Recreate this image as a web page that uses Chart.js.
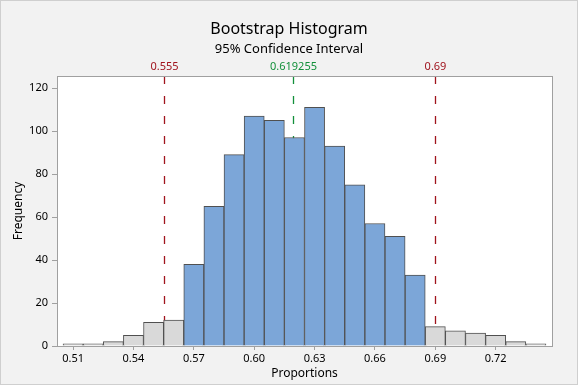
<!DOCTYPE html>
<html>
<head>
<meta charset="utf-8">
<script src="https://cdn.jsdelivr.net/npm/chart.js@4.4.1/dist/chart.umd.min.js"></script>
<style>
  html, body { margin: 0; padding: 0; background: #ffffff; }
  canvas { display: block; }
</style>
</head>
<body>
<canvas id="bootChart" width="578" height="389"></canvas>
<script>
// bin centres (bin width 0.01) and counts
const binCenters = [0.51, 0.52, 0.53, 0.54, 0.55, 0.56, 0.57, 0.58, 0.59, 0.60, 0.61, 0.62,
                    0.63, 0.64, 0.65, 0.66, 0.67, 0.68, 0.69, 0.70, 0.71, 0.72, 0.73, 0.74];
const frequencies = [1, 1, 2, 5, 11, 12, 38, 65, 89, 107, 105, 97,
                     111, 93, 75, 57, 51, 33, 9, 7, 6, 5, 2, 1];
const binWidth = 0.01;
const ciLower = 0.555;
const ciMean = 0.619255;
const ciUpper = 0.69;
const refValues = [ciLower, ciMean, ciUpper];
const refLabels = ["0.555", "0.619255", "0.69"];
const xTicks = [0.51, 0.54, 0.57, 0.60, 0.63, 0.66, 0.69, 0.72];
const yTicks = [0, 20, 40, 60, 80, 100, 120];

const FONT = "'Noto Sans', sans-serif";
const RED = "#a0141e";
const GREEN = "#12903a";

function barColor(c) {
    const x = binCenters[c.dataIndex];
    const inside = (x - binWidth / 2) > ciLower + 1e-9 && (x + binWidth / 2) < ciUpper - 1e-9;
    return inside ? "#7ca6d8" : "#d9d9d9";
}

const framePlugin = {
    id: "frame",
    beforeDraw(chart) {
        const c = chart.ctx;
        const a = chart.chartArea;
        c.save();
        c.fillStyle = "#f2f2f2";
        c.fillRect(0, 0, 578, 385);
        c.strokeStyle = "#cfcfcf";
        c.lineWidth = 1;
        c.strokeRect(0.5, 0.5, 577, 384);
        c.fillStyle = "#ffffff";
        c.fillRect(a.left, a.top, a.right - a.left, a.bottom - a.top);

        c.textAlign = "center";
        c.textBaseline = "middle";
        c.fillStyle = "#000000";
        c.font = "16px " + FONT;
        c.fillText("Bootstrap Histogram", 289, 29);
        c.font = "13px " + FONT;
        c.fillText("95% Confidence Interval", 289, 49);
        c.restore();
    },
    beforeDatasetsDraw(chart) {
        const c = chart.ctx;
        const a = chart.chartArea;
        const xs = chart.scales.x;
        c.save();
        c.lineWidth = 1.3;
        c.setLineDash([8, 12]);
        refValues.forEach((v, i) => {
            const px = Math.round(xs.getPixelForValue(v)) + 0.5;
            const col = i === 1 ? GREEN : RED;
            c.strokeStyle = col;
            c.beginPath();
            c.moveTo(px, a.top);
            c.lineTo(px, a.bottom);
            c.stroke();
            c.fillStyle = col;
            c.font = "11px " + FONT;
            c.textAlign = "center";
            c.textBaseline = "middle";
            c.fillText(refLabels[i], px, 67);
        });
        c.restore();
    },
    afterDraw(chart) {
        const c = chart.ctx;
        const a = chart.chartArea;
        c.save();
        c.strokeStyle = "#a0a0a0";
        c.lineWidth = 1;
        c.strokeRect(a.left + 0.5, a.top + 0.5, a.right - a.left, a.bottom - a.top);
        c.restore();
    }
};

new Chart(document.getElementById("bootChart"), {
    type: "bar",
    data: {
        datasets: [{
            data: binCenters.map((x, i) => ({ x: x, y: frequencies[i] })),
            backgroundColor: barColor,
            borderColor: "#505050",
            borderWidth: 1,
            barPercentage: 1,
            categoryPercentage: 1,
        }],
    },
    options: {
        responsive: false,
        animation: false,
        devicePixelRatio: 1,
        layout: { padding: { top: 76, right: 26, left: 0, bottom: 0 } },
        plugins: { legend: { display: false }, tooltip: { enabled: false } },
        scales: {
            x: {
                type: "linear",
                offset: false,
                min: 0.502,
                max: 0.748,
                afterBuildTicks: s => { s.ticks = xTicks.map(v => ({ value: v })); },
                afterFit: s => { s.height = 43; },
                grid: { offset: false, drawOnChartArea: false, drawTicks: true, tickLength: 4, color: "#a0a0a0" },
                border: { display: false },
                ticks: {
                    padding: 2,
                    color: "#000000",
                    font: { family: FONT, size: 11 },
                    maxRotation: 0,
                    callback: v => v.toFixed(2),
                },
                title: {
                    display: true,
                    text: "Proportions",
                    color: "#000000",
                    font: { family: FONT, size: 12 },
                    padding: { top: 0, bottom: 8 },
                },
            },
            y: {
                min: 0,
                max: 125.6,
                afterBuildTicks: s => { s.ticks = yTicks.map(v => ({ value: v })); },
                afterFit: s => { s.width = 57; },
                grid: { drawOnChartArea: false, drawTicks: true, tickLength: 5, color: "#a0a0a0" },
                border: { display: false },
                ticks: {
                    padding: 4,
                    color: "#000000",
                    font: { family: FONT, size: 11 },
                },
                title: {
                    display: true,
                    text: "Frequency",
                    color: "#000000",
                    font: { family: FONT, size: 12 },
                    padding: { top: 11, bottom: 0 },
                },
            },
        },
    },
    plugins: [framePlugin],
});
</script>
</body>
</html>
